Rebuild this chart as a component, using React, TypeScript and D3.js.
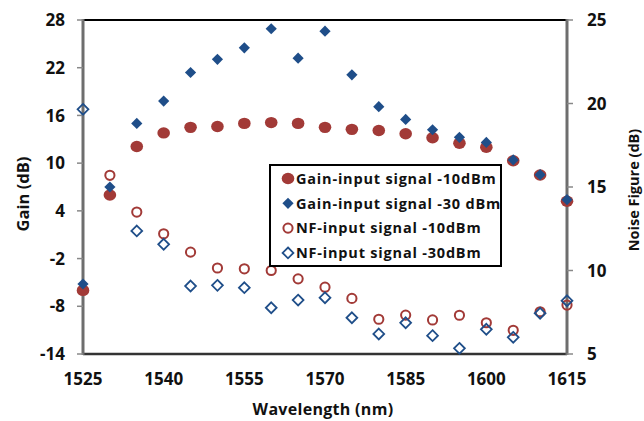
import * as d3 from "d3";

const wavelengths = [1525, 1530, 1535, 1540, 1545, 1550, 1555, 1560, 1565, 1570, 1575, 1580, 1585, 1590, 1595, 1600, 1605, 1610, 1615];
const gain10 = [-6.0, 6.0, 12.1, 13.8, 14.5, 14.6, 15.0, 15.1, 15.0, 14.5, 14.25, 14.1, 13.7, 13.2, 12.5, 12.0, 10.3, 8.5, 5.2];
const gain30 = [-5.2, 7.0, 15.0, 17.8, 21.4, 23.05, 24.5, 26.9, 23.2, 26.6, 21.1, 17.1, 15.5, 14.2, 13.25, 12.6, 10.4, 8.55, 5.4];
const nf10: (number | null)[] = [null, 15.7, 13.5, 12.2, 11.1, 10.15, 10.1, 10.0, 9.5, 9.0, 8.33, 7.08, 7.33, 7.04, 7.32, 6.87, 6.42, 7.53, 7.93];
const nf30: (number | null)[] = [19.65, null, 12.37, 11.57, 9.07, 9.11, 8.97, 7.77, 8.23, 8.37, 7.17, 6.2, 6.87, 6.1, 5.34, 6.48, 6.0, 7.44, 8.19];

const xTicks = [1525, 1540, 1555, 1570, 1585, 1600, 1615];
const gainTicks = [-14, -8, -2, 4, 10, 16, 22, 28];
const nfTicks = [5, 10, 15, 20, 25];
const legendLabels = [
  "Gain-input signal -10dBm",
  "Gain-input signal -30 dBm",
  "NF-input signal -10dBm",
  "NF-input signal -30dBm",
];

const RED = "#A23A37";
const BLUE = "#1F4E89";
const FONT = "'Open Sans', sans-serif";

const left = 83, right = 567, top = 20, bottom = 354;

const diamond = (cx: number, cy: number, r: number) =>
  `M${cx},${cy - r}L${cx + r},${cy}L${cx},${cy + r}L${cx - r},${cy}Z`;

export default function App() {
  const x = d3.scaleLinear().domain([1525, 1615]).range([left, right]);
  const yG = d3.scaleLinear().domain([-14, 28]).range([bottom, top]);
  const yN = d3.scaleLinear().domain([5, 25]).range([bottom, top]);

  const marker = (kind: number, cx: number, cy: number, key: string | number) => {
    if (kind === 0) return <ellipse key={key} cx={cx} cy={cy} rx={6.3} ry={5.7} fill={RED} />;
    if (kind === 1) return <path key={key} d={diamond(cx, cy, 5.6)} fill={BLUE} />;
    if (kind === 2)
      return <circle key={key} cx={cx} cy={cy} r={4.6} fill="none" stroke={RED} strokeWidth={2} />;
    return <path key={key} d={diamond(cx, cy, 5.4)} fill="none" stroke={BLUE} strokeWidth={1.8} />;
  };

  const series: { vals: (number | null)[]; y: d3.ScaleLinear<number, number>; kind: number }[] = [
    { vals: gain10, y: yG, kind: 0 },
    { vals: gain30, y: yG, kind: 1 },
    { vals: nf10, y: yN, kind: 2 },
    { vals: nf30, y: yN, kind: 3 },
  ];

  return (
    <div style={{ position: "absolute", left: 0, top: 0 }}>
      <svg width={644} height={421} style={{ display: "block", background: "#fff" }}>
        {/* frame */}
        <line x1={left} x2={right} y1={top} y2={top} stroke="#000" strokeWidth={2} />
        <line x1={left} x2={right} y1={bottom} y2={bottom} stroke="#333" strokeWidth={2.5} />
        <line x1={left} x2={left} y1={top - 1} y2={bottom + 1} stroke="#6e6e6e" strokeWidth={3} />
        <line x1={right} x2={right} y1={top - 1} y2={bottom + 1} stroke="#6e6e6e" strokeWidth={3} />

        {gainTicks.map((t) => (
          <g key={"g" + t}>
            <line x1={left - 6} x2={left} y1={yG(t)} y2={yG(t)} stroke="#888" strokeWidth={1.5} />
            <text x={65} y={yG(t)} dy="0.36em" textAnchor="end" fontFamily={FONT} fontWeight="bold" fontSize={17} fill="#111">
              {t}
            </text>
          </g>
        ))}
        {nfTicks.map((t) => (
          <g key={"n" + t}>
            <line x1={right} x2={right + 6} y1={yN(t)} y2={yN(t)} stroke="#888" strokeWidth={1.5} />
            <text x={587} y={yN(t)} dy="0.36em" textAnchor="start" fontFamily={FONT} fontWeight="bold" fontSize={17} fill="#111">
              {t}
            </text>
          </g>
        ))}
        {xTicks.map((t) => (
          <text key={"x" + t} x={x(t)} y={385} textAnchor="middle" fontFamily={FONT} fontWeight="bold" fontSize={17} fill="#111">
            {t}
          </text>
        ))}

        <text x={323} y={415} textAnchor="middle" fontFamily={FONT} fontWeight="bold" fontSize={16} letterSpacing={0.3} fill="#111">
          Wavelength (nm)
        </text>
        <text transform="translate(29,194) rotate(-90)" textAnchor="middle" fontFamily={FONT} fontWeight="bold" fontSize={16.5} fill="#111">
          Gain (dB)
        </text>
        <text transform="translate(639,190) rotate(-90)" textAnchor="middle" fontFamily={FONT} fontWeight="bold" fontSize={14.5} fill="#111">
          Noise Figure (dB)
        </text>

        {series.map((s, si) =>
          s.vals.map((v, i) => (v == null ? null : marker(s.kind, x(wavelengths[i]), s.y(v), `${si}-${i}`)))
        )}

        {/* legend */}
        <rect x={270} y={165} width={231} height={101} fill="#fff" stroke="#000" strokeWidth={2} />
        {legendLabels.map((lab, i) => {
          const cy = 178.5 + i * 24.8;
          return (
            <g key={lab}>
              {marker(i, 288, cy, "m")}
              <text x={296} y={cy} dy="0.36em" fontFamily={FONT} fontWeight="bold" fontSize={14.5} letterSpacing={0.8} fill="#111">
                {lab}
              </text>
            </g>
          );
        })}
      </svg>
    </div>
  );
}
